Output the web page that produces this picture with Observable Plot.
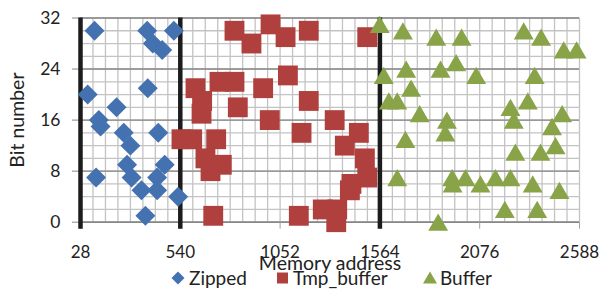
<!DOCTYPE html>
<html>
<head>
<meta charset="utf-8">
<script src="https://cdn.jsdelivr.net/npm/d3@7"></script>
<script src="https://cdn.jsdelivr.net/npm/@observablehq/plot@0.6"></script>
<style>
  html, body { margin: 0; padding: 0; background: #fff; }
  #wrap { position: relative; width: 602px; height: 290px; font-family: Lato, sans-serif; }
  #legend { position: absolute; left: 0; top: 267px; }
</style>
</head>
<body>
<div id="wrap"></div>
<script>
// Zipped series (memory address, bit number)
const zippedX = [100, 370, 507, 399, 447, 65, 373, 213, 122, 131, 250, 427, 284, 267, 460, 108, 290, 421, 341, 421, 529, 361];
const zippedY = [30, 30, 30, 28, 27, 20, 21, 18, 16, 15, 14, 14, 12, 9, 9, 7, 7, 7, 5, 5, 4, 1];
// Tmp_buffer series
const tmpX = [818, 618, 741, 818, 652, 649, 835, 1003, 905, 1080, 1199, 1499, 1092, 965, 1199, 999, 1332, 1162, 1456, 1384, 1487, 1499, 1418, 1410, 1148, 1271, 1345, 1340, 546, 601, 724, 669, 753, 695, 709];
const tmpY = [30, 21, 22, 22, 19, 17, 18, 31, 28, 29, 30, 29, 23, 21, 19, 16, 16, 14, 14, 12, 10, 7, 6, 5, 1, 2, 2, 0, 13, 13, 13, 10, 9, 8, 1];
// Buffer series
const bufX = [1563, 1682, 1584, 1699, 1724, 1610, 1653, 1853, 1983, 1875, 1955, 2058, 2302, 2391, 2507, 2573, 2358, 2323, 2234, 1768, 1908, 2499, 1900, 2251, 2447, 2465, 2259, 2388, 1935, 1937, 2003, 2080, 2157, 2234, 2348, 2485, 2205, 2371, 1863, 1695, 1653];
const bufY = [31, 30, 23, 24, 21, 19, 19, 29, 29, 24, 25, 23, 30, 29, 27, 27, 23, 19, 18, 17, 16, 17, 14, 16, 15, 12, 11, 11, 7, 6, 7, 6, 7, 7, 6, 5, 2, 2, 0, 13, 7];
// Region boundaries (thick black lines)
const boundaries = [28, 540, 1564];
// Axis ticks
const xTicks = [28, 540, 1052, 1564, 2076, 2588];
const yTicks = [0, 8, 16, 24, 32];
const seriesNames = ["Zipped", "Tmp_buffer", "Buffer"];
const colors = ["#4471AF", "#B0403D", "#89A349"];

const zipped = zippedX.map((x, i) => ({x, y: zippedY[i]}));
const tmp = tmpX.map((x, i) => ({x, y: tmpY[i]}));
const buf = bufX.map((x, i) => ({x, y: bufY[i]}));
const minorX = d3.range(28, 2589, 64);
const minorY = d3.range(0, 33, 2);

const chart = Plot.plot({
  width: 602,
  height: 290,
  marginLeft: 80,
  marginRight: 23,
  marginTop: 17.5,
  marginBottom: 68.3,
  x: {domain: [28, 2588]},
  y: {domain: [0, 32]},
  style: {fontFamily: "Lato, sans-serif", fontSize: "17px", color: "#222", background: "#fff"},
  marks: [
    Plot.gridX(minorX, {stroke: "#C3C3C3", strokeOpacity: 1, strokeWidth: 1.3}),
    Plot.gridY(minorY, {stroke: "#C3C3C3", strokeOpacity: 1, strokeWidth: 1.3}),
    Plot.gridY(yTicks, {stroke: "#878787", strokeOpacity: 1, strokeWidth: 1.4}),
    Plot.ruleY([0], {stroke: "#878787", strokeWidth: 1.5}),
    Plot.axisX({ticks: xTicks, tickFormat: d => String(d), tickSize: 7, tickPadding: 16.5, stroke: "#A0A0A0", fill: "#222", label: null, fontSize: 17}),
    Plot.axisY({ticks: yTicks, tickFormat: d => String(d), tickSize: 8, tickPadding: 12, stroke: "#878787", fill: "#222", label: null, fontSize: 17.5}),
    Plot.ruleX(boundaries, {y1: 32, y2: -1.1, stroke: "#1c1c1c", strokeWidth: 4.5}),
    Plot.dot(zipped, {x: "x", y: "y", symbol: "diamond2", r: 9, fill: colors[0], stroke: null}),
    Plot.dot(tmp, {x: "x", y: "y", symbol: "square", r: 11.2, fill: colors[1], stroke: null}),
    Plot.dot(buf, {x: "x", y: "y", symbol: "triangle", r: 7.4, dy: 2.9, fill: colors[2], stroke: null}),
    Plot.text(["Memory address"], {text: d => d, frameAnchor: "bottom", textAnchor: "middle", lineAnchor: "middle", dy: 42, fontSize: 19.5, fill: "#222"}),
    Plot.text(["Bit number"], {text: d => d, frameAnchor: "left", textAnchor: "middle", lineAnchor: "middle", rotate: -90, dx: -62.5, fontSize: 19.5, fill: "#222"})
  ]
});

const wrap = document.getElementById("wrap");
wrap.appendChild(chart);

// Legend below the plot
const ns = "http://www.w3.org/2000/svg";
const leg = document.createElementNS(ns, "svg");
leg.setAttribute("id", "legend");
leg.setAttribute("width", 602);
leg.setAttribute("height", 23);
const items = [
  {shape: "diamond", cx: 178, tx: 189},
  {shape: "square", cx: 282.5, tx: 293},
  {shape: "triangle", cx: 430, tx: 440}
];
const cy = 11;
items.forEach((it, i) => {
  let el;
  if (it.shape === "diamond") {
    el = document.createElementNS(ns, "path");
    el.setAttribute("d", `M${it.cx},${cy - 6.5}L${it.cx + 6.5},${cy}L${it.cx},${cy + 6.5}L${it.cx - 6.5},${cy}Z`);
  } else if (it.shape === "square") {
    el = document.createElementNS(ns, "rect");
    el.setAttribute("x", it.cx - 5.5); el.setAttribute("y", cy - 5.5);
    el.setAttribute("width", 11); el.setAttribute("height", 11);
  } else {
    el = document.createElementNS(ns, "path");
    el.setAttribute("d", `M${it.cx},${cy - 6.5}L${it.cx + 7},${cy + 5.5}L${it.cx - 7},${cy + 5.5}Z`);
  }
  el.setAttribute("fill", colors[i]);
  leg.appendChild(el);
  const t = document.createElementNS(ns, "text");
  t.setAttribute("x", it.tx);
  t.setAttribute("y", cy + 6.5);
  t.setAttribute("font-family", "Lato, sans-serif");
  t.setAttribute("font-size", "19px");
  t.setAttribute("fill", "#222");
  t.textContent = seriesNames[i];
  leg.appendChild(t);
});
wrap.appendChild(leg);
</script>
</body>
</html>
